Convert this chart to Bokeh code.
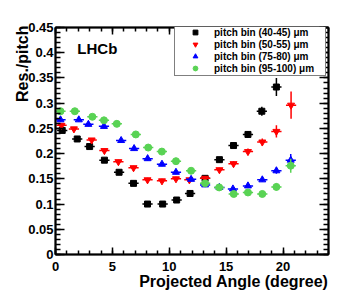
import numpy as np
from bokeh.plotting import figure
from bokeh.models import (LinearAxis, SingleIntervalTicker, NumeralTickFormatter,
                          CustomJSTickFormatter, Label, Range1d, Title)
from bokeh.embed import file_html
from bokeh.resources import INLINE

# ---- data ----
black_x = [0.59, 1.91, 3.00, 4.30, 5.59, 6.86, 8.09, 9.42, 10.65, 11.83, 13.15, 14.41, 15.65, 16.92, 18.14, 19.42]
black_y = [0.246, 0.229, 0.214, 0.187, 0.163, 0.141, 0.100, 0.100, 0.108, 0.121, 0.151, 0.188, 0.216, 0.238, 0.284, 0.332]
black_e = [0.004, 0.004, 0.004, 0.004, 0.004, 0.004, 0.004, 0.004, 0.004, 0.004, 0.004, 0.005, 0.005, 0.007, 0.009, 0.018]

red_x = [0.53, 1.62, 3.18, 4.30, 5.53, 6.86, 8.09, 9.36, 10.59, 11.77, 13.15, 14.41, 15.65, 16.92, 18.18, 19.42, 20.71]
red_y = [0.256, 0.249, 0.227, 0.206, 0.184, 0.172, 0.148, 0.146, 0.150, 0.148, 0.151, 0.168, 0.180, 0.204, 0.223, 0.244, 0.296]
red_e = [0.004, 0.004, 0.004, 0.004, 0.004, 0.004, 0.004, 0.004, 0.004, 0.004, 0.004, 0.004, 0.005, 0.006, 0.007, 0.012, 0.027]

blue_x = [0.44, 2.05, 2.89, 4.26, 5.77, 6.91, 8.10, 9.36, 10.59, 11.92, 13.15, 14.41, 15.60, 16.92, 18.18, 19.42, 20.68]
blue_y = [0.267, 0.267, 0.258, 0.254, 0.226, 0.210, 0.190, 0.179, 0.163, 0.149, 0.138, 0.133, 0.130, 0.136, 0.148, 0.166, 0.187]
blue_e = [0.004, 0.004, 0.004, 0.004, 0.004, 0.004, 0.004, 0.004, 0.004, 0.004, 0.004, 0.004, 0.004, 0.004, 0.004, 0.006, 0.012]

green_x = [0.44, 1.70, 3.24, 4.26, 5.39, 7.06, 8.15, 9.35, 10.59, 11.92, 13.15, 14.39, 15.67, 16.92, 18.18, 19.42, 20.68]
green_y = [0.284, 0.284, 0.273, 0.266, 0.259, 0.238, 0.212, 0.204, 0.185, 0.166, 0.141, 0.133, 0.120, 0.123, 0.120, 0.134, 0.176]
green_e = [0.004, 0.004, 0.004, 0.004, 0.004, 0.004, 0.004, 0.004, 0.004, 0.004, 0.004, 0.004, 0.004, 0.004, 0.004, 0.007, 0.014]

x_half_width = 0.45

series = [
    ("pitch bin (40-45) \u03bcm", black_x, black_y, black_e, "square", "#000000", 6),
    ("pitch bin (50-55) \u03bcm", red_x, red_y, red_e, "inverted_triangle", "#ff0000", 7),
    ("pitch bin (75-80) \u03bcm", blue_x, blue_y, blue_e, "triangle", "#0000ff", 7),
    ("pitch bin (95-100) \u03bcm", green_x, green_y, green_e, "circle", "#59d354", 7),
]

FONT = "Liberation Sans"

p = figure(width=349, height=295, x_range=Range1d(0, 24), y_range=Range1d(0, 0.45),
           output_backend="svg", toolbar_location=None,
           min_border_left=55, min_border_right=21, min_border_top=27, min_border_bottom=41)
p.xgrid.visible = False
p.ygrid.visible = False
p.background_fill_color = "white"
p.border_fill_color = "white"
p.outline_line_color = "black"
p.outline_line_width = 1.5

for label, xs, ys, es, marker, color, size in series:
    x = np.array(xs)
    y = np.array(ys)
    e = np.array(es)
    p.segment(x0=x - x_half_width, y0=y, x1=x + x_half_width, y1=y, line_color=color, line_width=1.5)
    p.segment(x0=x, y0=y - e, x1=x, y1=y + e, line_color=color, line_width=1.5)
    p.scatter(x=x, y=y, marker=marker, size=size, fill_color=color, line_color=color,
              legend_label=label)

# axes
xax = p.xaxis[0]
yax = p.yaxis[0]
xax.ticker = SingleIntervalTicker(interval=5, num_minor_ticks=5)
yax.ticker = SingleIntervalTicker(interval=0.05, num_minor_ticks=5)
yax.formatter = NumeralTickFormatter(format="0.[00]")
for ax, maj, mnr in ((xax, 7, 4), (yax, 9, 5)):
    ax.major_tick_in = maj
    ax.major_tick_out = 0
    ax.minor_tick_in = mnr
    ax.minor_tick_out = 0
    ax.axis_line_width = 2
    ax.major_tick_line_width = 1.5
    ax.minor_tick_line_width = 1.5
    ax.major_label_text_font = FONT
    ax.major_label_text_font_style = "bold"
    ax.major_label_text_font_size = "13px"
    ax.major_label_text_color = "black"
xax.major_label_standoff = 7
yax.major_label_standoff = 2

top = LinearAxis(ticker=SingleIntervalTicker(interval=5, num_minor_ticks=5),
                 formatter=CustomJSTickFormatter(code="return ''"))
right = LinearAxis(ticker=SingleIntervalTicker(interval=0.05, num_minor_ticks=5),
                   formatter=CustomJSTickFormatter(code="return ''"))
for ax, maj, mnr in ((top, 7, 4), (right, 9, 5)):
    ax.major_tick_in = maj
    ax.major_tick_out = 0
    ax.minor_tick_in = mnr
    ax.minor_tick_out = 0
    ax.axis_line_width = 2
    ax.major_tick_line_width = 1.5
    ax.minor_tick_line_width = 1.5
    ax.major_label_standoff = 0
p.add_layout(top, "above")
p.add_layout(right, "right")

# axis titles (ROOT style: at the end of the axis)
p.add_layout(Title(text="Projected Angle (degree)", align="right", vertical_align="top",
                   standoff=-2, text_font=FONT, text_font_style="bold",
                   text_font_size="16px", text_color="black"), "below")
p.add_layout(Title(text="Res./pitch", align="right", vertical_align="bottom",
                   standoff=-11, offset=-2, text_font=FONT, text_font_style="bold",
                   text_font_size="16px", text_color="black"), "left")

p.add_layout(Label(x=1.92, y=0.408, text="LHCb", text_font=FONT, text_font_style="bold",
                   text_font_size="15px", text_color="black", text_baseline="alphabetic"))

# legend
lg = p.legend[0]
lg.location = (119, 178)
lg.margin = 0
lg.padding = 1
lg.spacing = 0
lg.glyph_width = 38
lg.glyph_height = 12
lg.label_height = 12
lg.label_width = 110
lg.label_standoff = 0
lg.label_text_font = FONT
lg.label_text_font_style = "bold"
lg.label_text_font_size = "10px"
lg.label_text_color = "black"
lg.border_line_color = "black"
lg.border_line_width = 1.5
lg.background_fill_color = "white"
lg.background_fill_alpha = 1.0

open("out.html", "w").write(file_html(p, INLINE))
